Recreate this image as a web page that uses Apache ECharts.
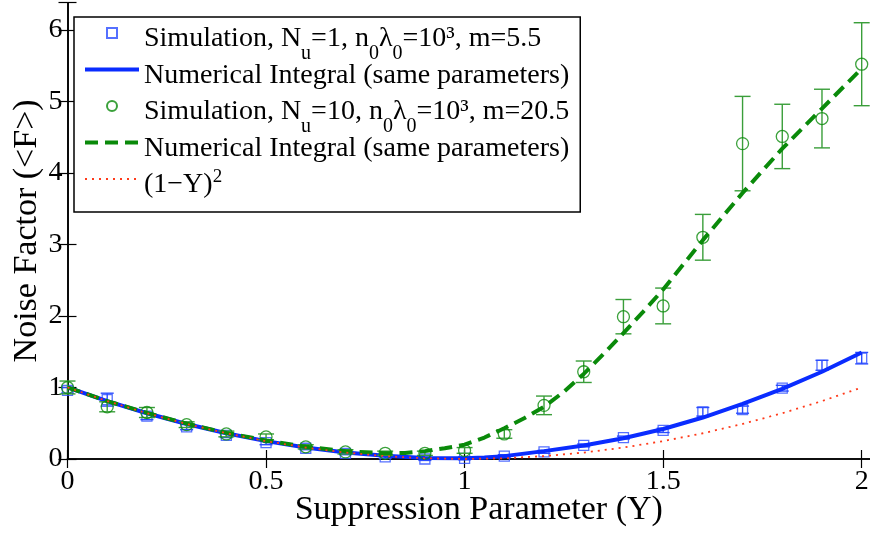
<!DOCTYPE html>
<html><head><meta charset="utf-8">
<script src="https://cdn.jsdelivr.net/npm/echarts@6/dist/echarts.min.js"></script>
<style>html,body{margin:0;padding:0;background:#fff}#c{width:870px;height:533px}</style>
</head><body><div id="c"></div>
<script>
// ---- data ----
const simX = [0,0.1,0.2,0.3,0.4,0.5,0.6,0.7,0.8,0.9,1.0,1.1,1.2,1.3,1.4,1.5,1.6,1.7,1.8,1.9,2.0];
const blueSimY   = [0.96,0.83,0.60,0.45,0.33,0.23,0.15,0.08,0.03,0.00,0.01,0.04,0.10,0.19,0.30,0.40,0.66,0.69,0.99,1.31,1.41];
const blueSimErr = [0.04,0.09,0.05,0.04,0.03,0.03,0.02,0.02,0.02,0.02,0.02,0.02,0.02,0.02,0.02,0.03,0.06,0.05,0.04,0.07,0.08];
const greenSimY   = [1.00,0.73,0.65,0.48,0.35,0.31,0.17,0.10,0.08,0.08,0.12,0.35,0.75,1.22,1.99,2.14,3.10,4.41,4.51,4.76,5.52];
const greenSimErr = [0.09,0.07,0.07,0.04,0.04,0.04,0.03,0.03,0.03,0.03,0.04,0.06,0.13,0.15,0.24,0.25,0.32,0.66,0.45,0.41,0.58];
const blueLineX = [0,0.1,0.2,0.3,0.4,0.5,0.6,0.7,0.8,0.9,1.0,1.05,1.1,1.2,1.3,1.4,1.5,1.6,1.7,1.8,1.9,2.0];
const blueLineY = [1.0,0.81,0.64,0.49,0.36,0.25,0.16,0.09,0.045,0.015,0.01,0.02,0.04,0.11,0.19,0.29,0.42,0.58,0.77,0.98,1.22,1.49];
const greenLineX = [0,0.1,0.2,0.3,0.4,0.5,0.6,0.7,0.8,0.85,0.9,0.95,1.0,1.05,1.1,1.15,1.2,1.25,1.3,1.35,1.4,1.45,1.5,1.6,1.7,1.8,1.9,2.0];
const greenLineY = [1.0,0.81,0.645,0.495,0.365,0.26,0.17,0.11,0.08,0.085,0.11,0.15,0.2,0.3,0.43,0.57,0.73,0.94,1.19,1.47,1.76,2.06,2.37,3.06,3.72,4.34,4.9,5.46];
const redLineX = [0,0.1,0.2,0.3,0.4,0.5,0.6,0.7,0.8,0.9,1.0,1.1,1.2,1.3,1.4,1.5,1.6,1.7,1.8,1.9,2.0];
const redLineY = [1.0,0.81,0.64,0.49,0.36,0.25,0.16,0.09,0.04,0.01,0.0,0.01,0.04,0.09,0.16,0.25,0.36,0.49,0.64,0.81,1.0];
const xTickLabels = ['0','0.5','1','1.5','2'];
const yTickLabels = ['0','1','2','3','4','5','6'];
const seriesNames = [
  'Simulation, N_u=1, n_0λ_0=10³, m=5.5',
  'Numerical Integral (same parameters) ',
  'Simulation, N_u=10, n_0λ_0=10³, m=20.5',
  'Numerical Integral (same parameters)',
  '(1−Y)^2'
];
const legendRich = [
  '{t|Simulation, N}{s|u}{t|=1, n}{s|0}{t|λ}{s|0}{t|=10³, m=5.5}',
  '{t|Numerical Integral (same parameters)}',
  '{t|Simulation, N}{s|u}{t|=10, n}{s|0}{t|λ}{s|0}{t|=10³, m=20.5}',
  '{t|Numerical Integral (same parameters)}',
  '{t|(1−Y)}{p|2}'
];

// ---- build ----
const zip = (xs, ys) => xs.map((x, i) => [x, ys[i]]);
const zip3 = (xs, ys, es) => xs.map((x, i) => [x, ys[i], es[i]]);
const FONT = 'Liberation Serif';
const XMAX = 2.031, YMAX = 6.38;
const BLUE = '#0a2cff', BLUE_M = '#2a4cff', GREEN = '#0a8a0a', GREEN_L = '#3a9e3a', RED = '#ff3a1a';

function errItem(color, halfCap) {
  return function (params, api) {
    const x = api.value(0), y = api.value(1), e = api.value(2);
    const t = api.coord([x, y + e]), b = api.coord([x, y - e]);
    const st = { stroke: color, lineWidth: 1.4 };
    return { type: 'group', children: [
      { type: 'line', shape: { x1: t[0], y1: t[1], x2: b[0], y2: b[1] }, style: st },
      { type: 'line', shape: { x1: t[0] - halfCap, y1: t[1], x2: t[0] + halfCap, y2: t[1] }, style: st },
      { type: 'line', shape: { x1: b[0] - halfCap, y1: b[1], x2: b[0] + halfCap, y2: b[1] }, style: st }
    ]};
  };
}
const xFmt = v => { const i = Math.round(v / 0.5); return (Math.abs(v - i * 0.5) < 1e-6 && i < xTickLabels.length) ? xTickLabels[i] : ''; };
const yFmt = v => { const i = Math.round(v); return (Math.abs(v - i) < 1e-6 && i < yTickLabels.length) ? yTickLabels[i] : ''; };
const axLine = { show: true, lineStyle: { color: '#000', width: 1.6 } };
const axTick = { show: true, inside: true, length: 9, lineStyle: { color: '#000', width: 1.2 } };
const hideSym = { color: 'rgba(0,0,0,0)', borderWidth: 0, opacity: 0 };

const chart = echarts.init(document.getElementById('c'), null, { renderer: 'canvas' });
chart.setOption({
  animation: false,
  backgroundColor: '#fff',
  textStyle: { fontFamily: FONT },
  grid: { left: 67.5, right: -4, top: 2.7, bottom: 74, containLabel: false, outerBoundsMode: 'none' },
  xAxis: [
    { type: 'value', min: 0, max: XMAX, interval: 0.5, position: 'bottom',
      axisLine: axLine, axisTick: axTick, splitLine: { show: false },
      axisLabel: { formatter: xFmt, fontFamily: FONT, fontSize: 28, color: '#000', margin: 9 },
      name: 'Suppression Parameter (Y)', nameLocation: 'middle', nameGap: 34, nameMoveOverlap: false,
      nameTextStyle: { fontFamily: FONT, fontSize: 34, color: '#000', padding: [0, 0, 0, 16] } },
    { type: 'value', min: 0, max: XMAX, interval: 0.5, position: 'top',
      axisLine: axLine, axisTick: axTick, splitLine: { show: false }, axisLabel: { show: false } }
  ],
  yAxis: [
    { type: 'value', min: 0, max: YMAX, interval: 1, position: 'left',
      axisLine: axLine, axisTick: axTick, splitLine: { show: false },
      axisLabel: { formatter: yFmt, fontFamily: FONT, fontSize: 28, color: '#000', margin: 5 },
      name: 'Noise Factor (<F>)', nameLocation: 'middle', nameGap: 23, nameMoveOverlap: false,
      nameTextStyle: { fontFamily: FONT, fontSize: 34, color: '#000' } },
    { type: 'value', min: 0, max: YMAX, interval: 1, position: 'right',
      axisLine: axLine, axisTick: axTick, splitLine: { show: false }, axisLabel: { show: false } }
  ],
  legend: {
    data: [
      { name: seriesNames[0], icon: 'path://M0,0H10V10H0Z' },
      { name: seriesNames[1], itemStyle: hideSym, lineStyle: { width: 4, color: BLUE } },
      { name: seriesNames[2], icon: 'circle' },
      { name: seriesNames[3], itemStyle: hideSym, lineStyle: { width: 4, color: GREEN, type: [13, 7] } },
      { name: seriesNames[4], itemStyle: hideSym, lineStyle: { width: 2, color: RED, type: [2, 5] } }
    ],
    orient: 'vertical', left: 74, top: 17,
    padding: [2, 11, 2, 9], itemGap: -8.5,
    itemWidth: 54, itemHeight: 10, symbolKeepAspect: true,
    backgroundColor: '#fff', borderColor: '#000', borderWidth: 1.5, borderRadius: 0,
    selectedMode: false,
    formatter: name => legendRich[seriesNames.indexOf(name)],
    textStyle: {
      fontFamily: FONT, fontSize: 28, color: '#000',
      rich: {
        t: { fontFamily: FONT, fontSize: 28, lineHeight: 28, verticalAlign: 'top', padding: [6, 0, 11, 0], color: '#000' },
        s: { fontFamily: FONT, fontSize: 20, lineHeight: 20, verticalAlign: 'top', padding: [25, 0, 0, 0], color: '#000' },
        p: { fontFamily: FONT, fontSize: 19, lineHeight: 19, verticalAlign: 'top', padding: [3, 0, 23, 0], color: '#000' }
      }
    }
  },
  series: [
    { type: 'custom', name: 'errBlue', renderItem: errItem(BLUE_M, 6.5), data: zip3(simX, blueSimY, blueSimErr),
      encode: { x: 0, y: 1 }, z: 2 },
    { type: 'scatter', name: seriesNames[0], data: zip(simX, blueSimY), symbol: 'rect', symbolSize: 10,
      itemStyle: { color: 'rgba(255,255,255,0)', borderColor: BLUE_M, borderWidth: 1.3 }, z: 2 },
    { type: 'line', name: seriesNames[1], data: zip(blueLineX, blueLineY), symbol: 'none', showSymbol: false,
      lineStyle: { color: BLUE, width: 4 }, itemStyle: { color: BLUE }, z: 3 },
    { type: 'custom', name: 'errGreen', renderItem: errItem(GREEN_L, 8), data: zip3(simX, greenSimY, greenSimErr),
      encode: { x: 0, y: 1 }, z: 4 },
    { type: 'scatter', name: seriesNames[2], data: zip(simX, greenSimY), symbol: 'circle', symbolSize: 12,
      itemStyle: { color: 'rgba(255,255,255,0)', borderColor: GREEN, borderWidth: 1.3 }, z: 4 },
    { type: 'line', name: seriesNames[3], data: zip(greenLineX, greenLineY), symbol: 'none', showSymbol: false,
      lineStyle: { color: GREEN, width: 4, type: [13, 7] }, itemStyle: { color: GREEN }, z: 5 },
    { type: 'line', name: seriesNames[4], data: zip(redLineX, redLineY), symbol: 'none', showSymbol: false,
      lineStyle: { color: RED, width: 1.8, type: [2, 5] }, itemStyle: { color: RED }, z: 6 }
  ]
});
</script></body></html>
